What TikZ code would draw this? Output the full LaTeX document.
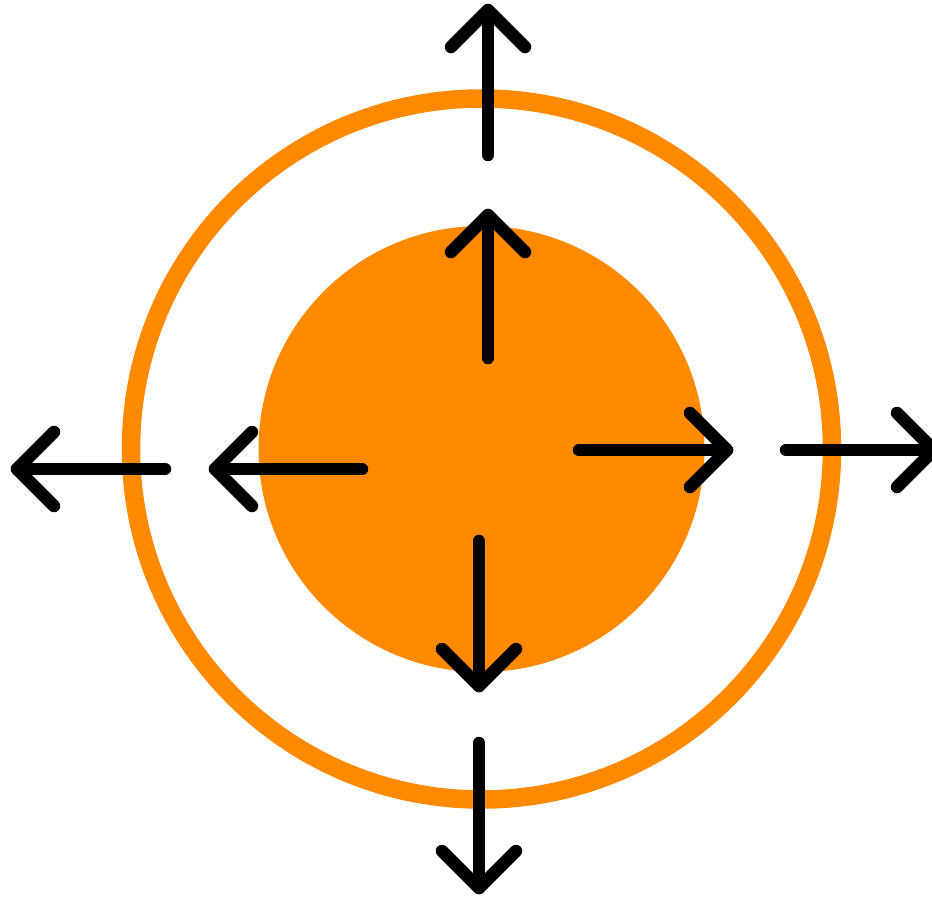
\documentclass[tikz,border=0pt]{standalone}
\usetikzlibrary{calc}
\definecolor{ring}{HTML}{FF8A00}
\tikzset{
  arr/.style={line width=12.5pt, line cap=round, line join=round, black},
}
\begin{document}
\begin{tikzpicture}[x=1pt,y=-1pt]
\useasboundingbox (0,0) rectangle (932,897);
\coordinate (c) at (481.5,449);
\fill[ring] (c) circle (223);
\draw[ring, line width=18.5pt] (c) circle (350.5);
% up outer
\coordinate (uos) at (488,155); \coordinate (uot) at (488,10);
\draw[arr] (uos) -- (uot);
\draw[arr] ($(uot)+(-37,37)$) -- (uot) -- ($(uot)+(37,37)$);
% up inner
\coordinate (uis) at (488,358); \coordinate (uit) at (488,215);
\draw[arr] (uis) -- (uit);
\draw[arr] ($(uit)+(-37,37)$) -- (uit) -- ($(uit)+(37,37)$);
% left outer
\coordinate (los) at (165,469); \coordinate (lot) at (17,469);
\draw[arr] (los) -- (lot);
\draw[arr] ($(lot)+(37,-37)$) -- (lot) -- ($(lot)+(37,37)$);
% left inner
\coordinate (lis) at (362,469); \coordinate (lit) at (215,469);
\draw[arr] (lis) -- (lit);
\draw[arr] ($(lit)+(37,-37)$) -- (lit) -- ($(lit)+(37,37)$);
% right inner
\coordinate (ris) at (579,450); \coordinate (rit) at (727,450);
\draw[arr] (ris) -- (rit);
\draw[arr] ($(rit)+(-37,-37)$) -- (rit) -- ($(rit)+(-37,37)$);
% right outer
\coordinate (ros) at (786,450); \coordinate (rot) at (934,450);
\draw[arr] (ros) -- (rot);
\draw[arr] ($(rot)+(-37,-37)$) -- (rot) -- ($(rot)+(-37,37)$);
% down inner
\coordinate (dis) at (479,541); \coordinate (dit) at (479,686);
\draw[arr] (dis) -- (dit);
\draw[arr] ($(dit)+(-37,-37)$) -- (dit) -- ($(dit)+(37,-37)$);
% down outer
\coordinate (dos) at (479,743); \coordinate (dot) at (479,888);
\draw[arr] (dos) -- (dot);
\draw[arr] ($(dot)+(-37,-37)$) -- (dot) -- ($(dot)+(37,-37)$);
\end{tikzpicture}
\end{document}
